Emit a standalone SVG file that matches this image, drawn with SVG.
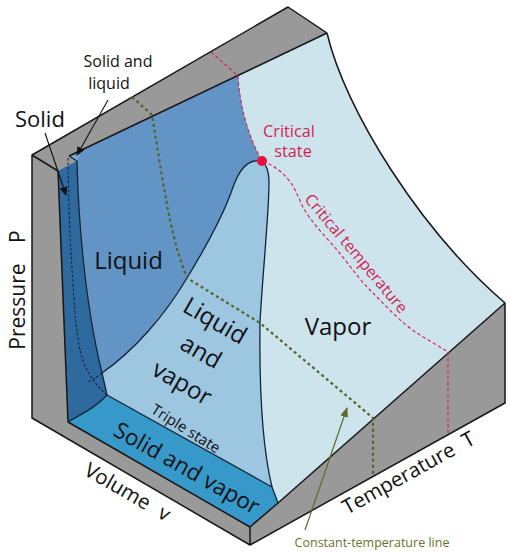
<svg xmlns="http://www.w3.org/2000/svg" width="510" height="560" viewBox="0 0 510 560">
<defs>
<marker id="ak" markerWidth="9" markerHeight="8" refX="8" refY="4" orient="auto" markerUnits="userSpaceOnUse"><path d="M0 0L9 4L0 8Z" fill="#111"/></marker>
<marker id="ag" markerWidth="10" markerHeight="8" refX="9" refY="4" orient="auto" markerUnits="userSpaceOnUse"><path d="M0 0L10 4L0 8Z" fill="#5f6b2a"/></marker>
</defs>
<style>
.e{stroke:#161616;stroke-width:1.5;stroke-linejoin:round}
.b{stroke:#10253a;stroke-width:1.3;stroke-linejoin:round;fill:none}
.t{font-family:"Open Sans","Noto Sans",sans-serif;fill:#111}
.r{font-family:"Open Sans","Noto Sans",sans-serif;fill:#d11f55}
.g{fill:none;stroke:#56622a;stroke-width:2.2;stroke-dasharray:3 3}
.rd{fill:none;stroke:#d3285c;stroke-width:1.2;stroke-dasharray:3.5 2.5}
.k{fill:none;stroke:#10253a;stroke-width:1.1;stroke-dasharray:2.5 2}
</style>
<rect width="510" height="560" fill="#fff"/>
<g id="frame">
<path fill="#999" d="M32 155L288 7L327 33L278 503L505 303V403L250 545L32 418Z"/>
<path fill="#999" d="M32 155L327 33L278 503L250 527Z"/>
<path class="e" fill="none" d="M327 33L288 7L32 155V418L250 545L505 403V303M250 527V545M58 171L32 155"/>
</g>
<g id="vapor">
<path fill="#cee4ec" d="M262 161C268 166 269 175 269 182C269 215 262 280 260 323C259 400 263 450 272 487L278 503L505 303C420 230 345 110 327 33L238 76C240 110 250 140 262 161Z"/>
</g>
<g id="liquid">
<path fill="#6394c6" d="M69 156L238 76C240 110 250 140 262 161C245 158 237 175 232 190C225 210 207 245 187 278C165 315 135 350 102 373C88 310 80 230 77 161Z"/>
</g>
<g id="liquid-vapor">
<path fill="#9dc6e1" d="M262 161C245 158 237 175 232 190C225 210 207 245 187 278C165 315 135 350 102 373L107 395L272 487C263 450 259 400 260 323C262 280 269 215 269 182C269 175 268 166 262 161Z"/>
</g>
<g id="solid">
<path fill="#2f6a9f" d="M58 171L77 161C78 210 84 300 102 373L107 395C95 408 85 412 68 422Z"/>
<path fill="#7fa8d6" d="M69 156L80 155L77 161Z"/>
</g>
<g id="solid-vapor">
<path fill="#3799c9" d="M68 422C85 412 95 408 107 395L272 487L278 503L250 527Z"/>
</g>
<g id="connectors">
<path class="e" fill="none" d="M69 156L327 33M505 303L278 503L250 527L68 422L58 171"/>
<path class="e" fill="none" d="M327 33C345 110 420 230 505 303"/>
<path class="b" d="M69 156L77 161C78 210 84 300 102 373L107 395L272 487L278 503M68 422C85 412 95 408 107 395"/>
<path class="b" d="M102 373C135 350 165 315 187 278C207 245 225 210 232 190C237 175 245 158 262 161C268 166 269 175 269 182C269 215 262 280 260 323C259 400 263 450 272 487"/>
<path class="k" d="M68 158C69 220 70 240 73 283C75 320 78 345 82 357C85 370 95 385 107 395M102 373C97 377 92 380 88 382"/>
<path class="g" d="M132 97L152 115C158 150 165 200 173 233C177 250 182 265 187 278L260 323L373 418V476"/>
<path class="rd" d="M211 52L238 76C240 110 250 140 262 161C275 166 282 172 287 178C295 187 297 195 303 207C311 222 326 237 337 250C348 263 358 278 370 290C385 305 402 324 420 335C430 341 440 347 448 352V433"/>
<path fill="none" stroke="#111" stroke-width="1.1" marker-end="url(#ak)" d="M45 133L66 195"/>
<path fill="none" stroke="#111" stroke-width="1.1" marker-end="url(#ak)" d="M108 100L77 155"/>
<path fill="none" stroke="#5f6b2a" stroke-width="1.2" marker-end="url(#ag)" d="M305 530L347 408"/>
</g>
<g id="critical-point"><circle cx="262" cy="161" r="5" fill="#ec0f3c"/></g>
<g id="labels">
<text class="t" x="15" y="127" font-size="22">Solid</text>
<text class="t" x="118" y="67" font-size="16" text-anchor="middle">Solid and</text>
<text class="t" x="109" y="89" font-size="16" text-anchor="middle">liquid</text>
<text class="t" x="128.500" y="269" font-size="24" text-anchor="middle">Liquid</text>
<text class="t" font-size="24" text-anchor="middle" transform="translate(211 328) rotate(30)">Liquid</text>
<text class="t" font-size="24" text-anchor="middle" transform="translate(197 359) rotate(30)">and</text>
<text class="t" font-size="24" text-anchor="middle" transform="translate(178 390) rotate(30)">vapor</text>
<text class="t" x="338" y="335" font-size="24" text-anchor="middle">Vapor</text>
<text class="t" font-size="15" text-anchor="middle" transform="translate(183 433) rotate(32)">Triple state</text>
<text class="t" font-size="22.500" text-anchor="middle" transform="translate(183 475) rotate(29.500)">Solid and vapor</text>
<text class="t" font-size="20.500" text-anchor="middle" word-spacing="7" transform="translate(124 498) rotate(30)">Volume v</text>
<text class="t" font-size="20.500" text-anchor="middle" word-spacing="6" transform="translate(412 479) rotate(-29)">Temperature T</text>
<text class="t" font-size="21" text-anchor="middle" word-spacing="15" transform="translate(25 290) rotate(-90)">Pressure P</text>
<text class="r" x="289" y="137" font-size="16.300" text-anchor="middle">Critical</text>
<text class="r" x="293" y="157" font-size="16.300" text-anchor="middle">state</text>
<text class="r" font-size="16" text-anchor="middle" transform="translate(352 257) rotate(50)">Critical temperature</text>
<text x="372" y="547" font-size="12.500" text-anchor="middle" font-family="'Open Sans','Noto Sans',sans-serif" fill="#6b6f2c">Constant-temperature line</text>
</g>
</svg>
